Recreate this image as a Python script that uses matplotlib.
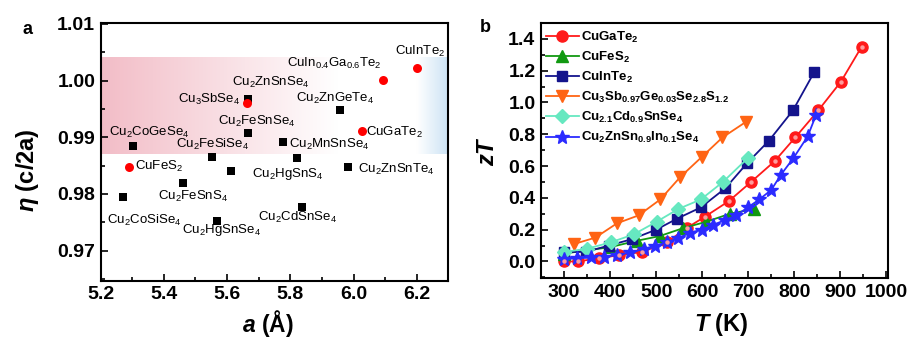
import numpy as np
import matplotlib
matplotlib.use('Agg')
import matplotlib.pyplot as plt
from matplotlib.ticker import MultipleLocator

plt.rcParams['font.family'] = ['Liberation Sans', 'DejaVu Sans']
plt.rcParams['mathtext.fontset'] = 'custom'
plt.rcParams['mathtext.rm'] = 'Liberation Sans:bold'
plt.rcParams['mathtext.it'] = 'Liberation Sans:italic:bold'
plt.rcParams['mathtext.bf'] = 'Liberation Sans:bold'
plt.rcParams['mathtext.default'] = 'regular'

# ---- panel a: lattice constant a vs tetragonal distortion eta ----
sq_names = ['Cu$_2$CoGeSe$_4$', 'Cu$_2$CoSiSe$_4$', 'Cu$_2$FeSnS$_4$', 'Cu$_2$FeSiSe$_4$',
            'Cu$_2$HgSnS$_4$', 'Cu$_2$HgSnSe$_4$', 'Cu$_2$ZnSnSe$_4$', 'Cu$_2$FeSnSe$_4$',
            'Cu$_2$MnSnSe$_4$', '', 'Cu$_2$CdSnSe$_4$', 'Cu$_2$ZnGeTe$_4$', 'Cu$_2$ZnSnTe$_4$']
sq_a = [5.301, 5.270, 5.461, 5.551, 5.612, 5.567, 5.667, 5.665, 5.776, 5.820, 5.836, 5.957, 5.984]
sq_eta = [0.9885, 0.9795, 0.9820, 0.9865, 0.9841, 0.9752, 0.9968, 0.9908, 0.9891, 0.9864,
          0.9777, 0.9948, 0.9847]

red_names = ['CuFeS$_2$', 'Cu$_3$SbSe$_4$', 'CuGaTe$_2$', 'CuIn$_{0.4}$Ga$_{0.6}$Te$_2$', 'CuInTe$_2$']
red_a = [5.289, 5.662, 6.026, 6.092, 6.200]
red_eta = [0.9848, 0.9961, 0.9911, 1.0001, 1.0022]

# label centres (data coords), same order as the names above
sq_label_xy = [(5.353, 0.9908), (5.339, 0.9753), (5.491, 0.9795), (5.554, 0.9888),
               (5.793, 0.9836), (5.581, 0.9737), (5.737, 0.9996), (5.693, 0.9927),
               (5.922, 0.9888), None, (5.823, 0.9758), (5.941, 0.9968), (6.136, 0.9843)]
red_label_xy = [(5.384, 0.9848), (5.544, 0.9966), (6.128, 0.9908), (5.938, 1.0031), (6.210, 1.0051)]

# ---- panel b: zT vs T ----
T_cugate = [300, 330, 375, 420, 470, 523, 566, 605, 658, 706, 757, 802, 852, 901, 946]
zt_cugate = [0.00, 0.00, 0.02, 0.04, 0.06, 0.12, 0.21, 0.28, 0.38, 0.50, 0.63, 0.78, 0.95, 1.13, 1.35]

T_cufes = [300, 350, 400, 458, 508, 559, 609, 660, 712]
zt_cufes = [0.05, 0.07, 0.09, 0.13, 0.16, 0.21, 0.25, 0.30, 0.33]

T_cuinte = [300, 347, 397, 447, 500, 546, 597, 650, 698, 745, 797, 843]
zt_cuinte = [0.06, 0.06, 0.10, 0.14, 0.20, 0.27, 0.34, 0.46, 0.62, 0.76, 0.95, 1.19]

T_cusb = [322, 368, 415, 462, 509, 552, 600, 644, 696]
zt_cusb = [0.11, 0.15, 0.24, 0.29, 0.39, 0.53, 0.66, 0.78, 0.88]

T_cucd = [301, 350, 401, 451, 501, 548, 597, 645, 699]
zt_cucd = [0.06, 0.08, 0.12, 0.17, 0.25, 0.33, 0.39, 0.50, 0.65]

T_czti = [301, 329, 358, 386, 415, 444, 473, 498, 523, 548, 573, 599, 624, 649, 674, 699,
          724, 750, 771, 798, 829, 847]
zt_czti = [0.015, 0.02, 0.025, 0.03, 0.04, 0.057, 0.078, 0.10, 0.12, 0.147, 0.18, 0.20, 0.23,
           0.26, 0.29, 0.34, 0.39, 0.45, 0.546, 0.65, 0.787, 0.92]

fig = plt.figure(figsize=(9.12, 3.38), dpi=100)
ax1 = fig.add_axes([0.1104, 0.1695, 0.3812, 0.7633])
ax2 = fig.add_axes([0.5932, 0.1775, 0.3808, 0.7545])


def style_axis(ax):
    for s in ax.spines.values():
        s.set_linewidth(1.5)
    ax.tick_params(which='both', direction='in', top=False, right=False, width=1.2)
    ax.tick_params(which='major', length=5, labelsize=14, pad=4)
    ax.tick_params(which='minor', length=3)
    for lab in ax.get_xticklabels() + ax.get_yticklabels():
        lab.set_fontweight('bold')


# gradient band (pink -> white -> light blue)
xs = np.linspace(5.2, 6.3, 300)
stops = [5.2, 5.95, 6.2, 6.3]
r = np.interp(xs, stops, [0.95, 1.0, 1.0, 0.80])
g = np.interp(xs, stops, [0.74, 1.0, 1.0, 0.89])
b = np.interp(xs, stops, [0.78, 1.0, 1.0, 0.96])
band = np.dstack([r, g, b])
ax1.imshow(band, extent=[5.2, 6.3, 0.987, 1.004], aspect='auto', zorder=0,
           interpolation='bilinear')

ax1.scatter(sq_a, sq_eta, marker='s', s=40, color='black', zorder=3, linewidths=0)
ax1.scatter(red_a, red_eta, marker='o', s=42, color='#ff0000', zorder=3, linewidths=0)
for name, xy in zip(sq_names + red_names, sq_label_xy + red_label_xy):
    if xy is None:
        continue
    ax1.text(xy[0], xy[1], name, fontsize=9.5, ha='center', va='center', zorder=4)

ax1.set_xlim(5.2, 6.3)
ax1.set_ylim(0.9647, 1.0102)
ax1.xaxis.set_minor_locator(MultipleLocator(0.1))
ax1.yaxis.set_minor_locator(MultipleLocator(0.005))
ax1.set_xticks([5.2, 5.4, 5.6, 5.8, 6.0, 6.2])
ax1.set_xticklabels(['5.2', '5.4', '5.6', '5.8', '6.0', '6.2'])
ax1.set_yticks([0.97, 0.98, 0.99, 1.00, 1.01])
ax1.set_yticklabels(['0.97', '0.98', '0.99', '1.00', '1.01'])
style_axis(ax1)
ax1.set_xlabel(r'$\mathit{a}$ (Å)', fontsize=16.5, fontweight='bold')
ax1.set_ylabel(r'$\mathit{\eta}$ (c/2a)', fontsize=17, fontweight='bold')
ax1.xaxis.set_label_coords(0.48, -0.105)
ax1.yaxis.set_label_coords(-0.172, 0.43)

# panel b
series = [
    (T_cugate, zt_cugate, 'o', '#ff1a1a', 8, 'CuGaTe$_2$'),
    (T_cufes, zt_cufes, '^', '#119911', 8, 'CuFeS$_2$'),
    (T_cuinte, zt_cuinte, 's', '#14148c', 7, 'CuInTe$_2$'),
    (T_cusb, zt_cusb, 'v', '#ff6414', 9, 'Cu$_3$Sb$_{0.97}$Ge$_{0.03}$Se$_{2.8}$S$_{1.2}$'),
    (T_cucd, zt_cucd, 'D', '#66e8c0', 7, 'Cu$_{2.1}$Cd$_{0.9}$SnSe$_4$'),
    (T_czti, zt_czti, '*', '#2b2bff', 10, 'Cu$_2$ZnSn$_{0.9}$In$_{0.1}$Se$_4$'),
]
handles = []
for T, zt, mk, col, ms, lab in series:
    h, = ax2.plot(T, zt, marker=mk, color=col, markersize=ms, linewidth=1.3,
                  markeredgecolor=col, label=lab)
    handles.append(h)
# little highlight on the red spheres
ax2.plot(T_cugate, zt_cugate, 'o', color='#ff9c9c', markersize=2.2, linestyle='none')

ax2.set_xlim(250, 1004)
ax2.set_ylim(-0.104, 1.5)
ax2.xaxis.set_minor_locator(MultipleLocator(50))
ax2.yaxis.set_minor_locator(MultipleLocator(0.1))
ax2.set_xticks(range(300, 1001, 100))
ax2.set_yticks([0.0, 0.2, 0.4, 0.6, 0.8, 1.0, 1.2, 1.4])
ax2.set_yticklabels(['0.0', '0.2', '0.4', '0.6', '0.8', '1.0', '1.2', '1.4'])
style_axis(ax2)
ax2.set_xlabel(r'$\mathit{T}$ (K)', fontsize=17, fontweight='bold')
ax2.set_ylabel(r'$\mathit{zT}$', fontsize=17)
ax2.xaxis.set_label_coords(0.52, -0.13)
ax2.yaxis.set_label_coords(-0.12, 0.5)

leg = ax2.legend(handles=handles, loc='upper left', bbox_to_anchor=(-0.005, 1.0),
                 frameon=False, prop={'weight': 'bold', 'size': 9.5},
                 handlelength=2.5, handletextpad=0.2, labelspacing=0.38,
                 borderaxespad=0.3, borderpad=0.2)

fig.text(28 / 912, 1 - 30 / 338, 'a', fontsize=13, fontweight='bold', ha='center', va='center')
fig.text(485 / 912, 1 - 28 / 338, 'b', fontsize=13, fontweight='bold', ha='center', va='center')

fig.savefig('out.png', dpi=100)
